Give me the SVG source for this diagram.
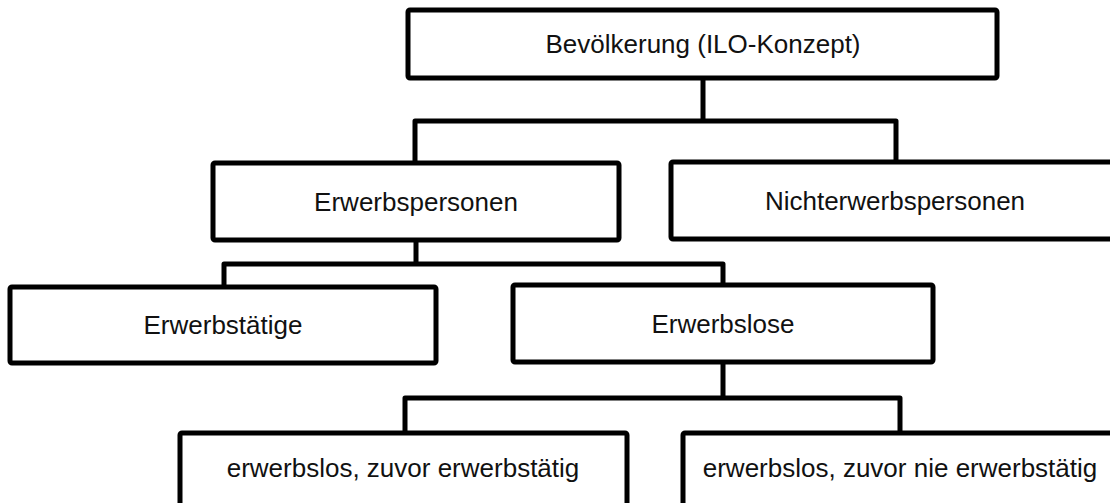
<svg xmlns="http://www.w3.org/2000/svg" width="1110" height="503" viewBox="0 0 1110 503">
  <style>
    .box { fill: #ffffff; stroke: #000000; stroke-width: 5; stroke-linejoin: round; }
    .lbl { font-family: "Liberation Sans", Arial, sans-serif; font-size: 26px; fill: #111111; text-anchor: middle; }
    .con { fill: none; stroke: #000000; stroke-width: 5; stroke-linejoin: round; stroke-linecap: butt; }
  </style>
  <rect width="1110" height="503" fill="#ffffff"/>
  <g id="connectors">
    <path class="con" d="M703 78 V121 M415 163 V121 H896 V162"/>
    <path class="con" d="M416 240 V264 M224 287 V264 H723 V285"/>
    <path class="con" d="M723 362 V398 M405 433 V398 H900 V433"/>
  </g>
  <g id="bevoelkerung">
    <rect class="box" x="408" y="10" width="589" height="68" rx="2"/>
    <text class="lbl" x="703" y="53">Bevölkerung (ILO-Konzept)</text>
  </g>
  <g id="erwerbspersonen">
    <rect class="box" x="213" y="163" width="406" height="77" rx="2"/>
    <text class="lbl" x="416" y="211">Erwerbspersonen</text>
  </g>
  <g id="nichterwerbspersonen">
    <rect class="box" x="671" y="162" width="450" height="77" rx="2"/>
    <text class="lbl" x="895" y="210">Nichterwerbspersonen</text>
  </g>
  <g id="erwerbstaetige">
    <rect class="box" x="10" y="287" width="426" height="76" rx="2"/>
    <text class="lbl" x="223" y="334">Erwerbstätige</text>
  </g>
  <g id="erwerbslose">
    <rect class="box" x="513" y="285" width="420" height="77" rx="2"/>
    <text class="lbl" x="723" y="333">Erwerbslose</text>
  </g>
  <g id="zuvor-erwerbstaetig">
    <rect class="box" x="180" y="433" width="447" height="80" rx="2"/>
    <text class="lbl" x="403" y="477">erwerbslos, zuvor erwerbstätig</text>
  </g>
  <g id="zuvor-nie-erwerbstaetig">
    <rect class="box" x="683" y="433" width="440" height="80" rx="2"/>
    <text class="lbl" x="900" y="477">erwerbslos, zuvor nie erwerbstätig</text>
  </g>
</svg>
